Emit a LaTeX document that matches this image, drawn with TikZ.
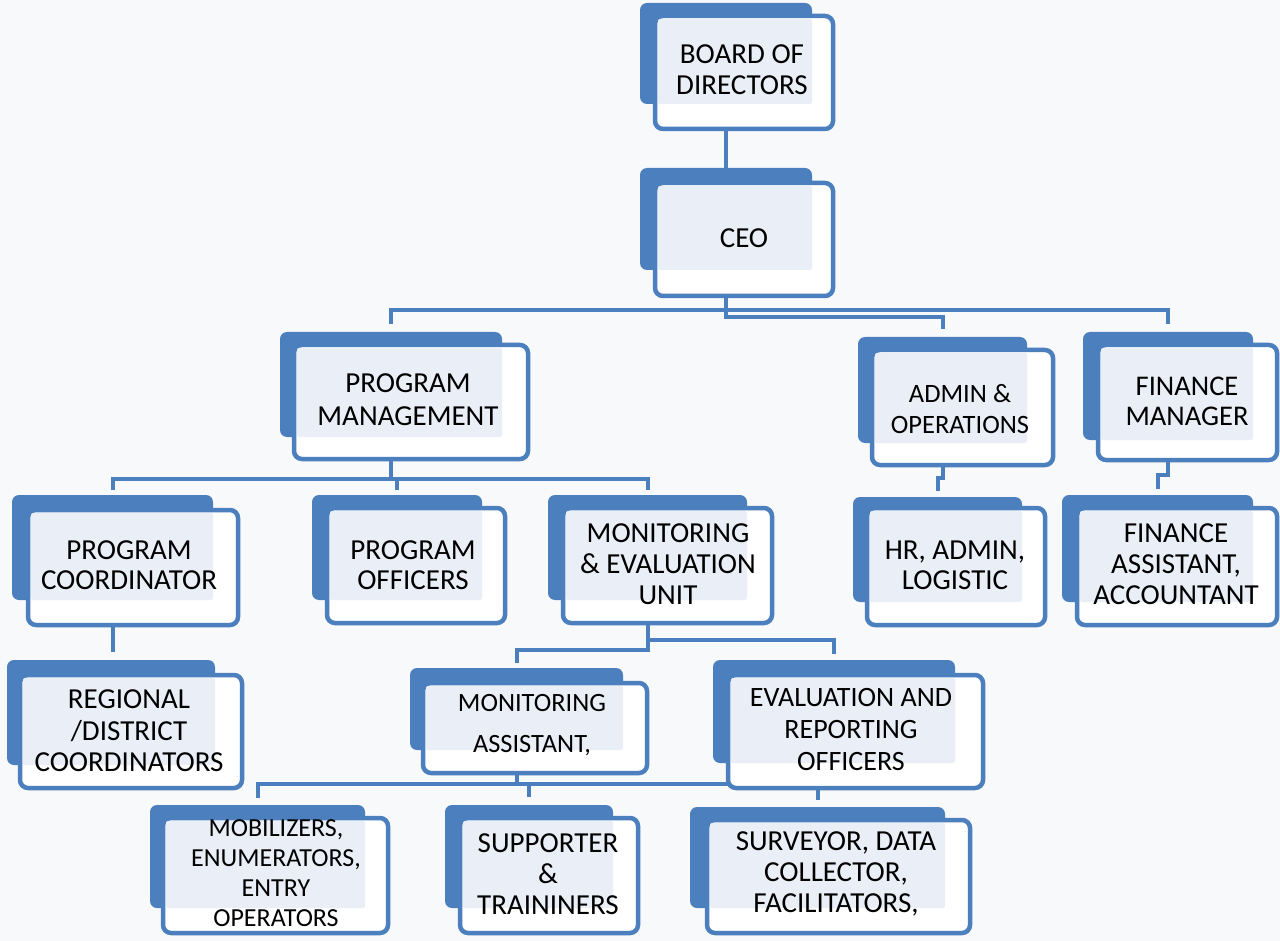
\documentclass[tikz,border=0pt]{standalone}
\usepackage{fontspec}
\setmainfont{Carlito}
\usetikzlibrary{fit,calc}
\pgfdeclarelayer{bg}
\pgfdeclarelayer{conn}
\pgfsetlayers{bg,conn,main}
\definecolor{boxblue}{RGB}{76,127,190}
\definecolor{innerfill}{RGB}{234,239,247}
\definecolor{pagebg}{RGB}{248,249,250}
\newcommand\fs[2]{\fontsize{#1}{#2}\selectfont}
% #1 name, #2 back top-left, #3 back bottom-right, #4 front top-left, #5 front bottom-right
\newcommand\obox[5]{%
  \fill[boxblue, rounded corners=7pt] #2 rectangle #3;
  \draw[boxblue, line width=4.5pt, fill=white, rounded corners=8pt] #4 rectangle #5;
  \fill[innerfill, rounded corners=2pt] ($#4+(3,3)$) rectangle #3;
  \node[fit={#2 #3}, inner sep=0pt, name=#1b] {};
  \node[fit={#4 #5}, inner sep=0pt, name=#1] {};
}
\begin{document}
\begin{tikzpicture}[x=1pt,y=-1pt,
  conn/.style={draw=boxblue, line width=4pt},
  lbl/.style={align=center, inner sep=0pt, text=black}]
\begin{pgfonlayer}{bg}
\fill[pagebg] (0,0) rectangle (1280,941);
\end{pgfonlayer}
\useasboundingbox (0,0) rectangle (1280,941);

% boxes
\obox{board}{(640,3)}{(812,104)}{(655,16)}{(833,129)}
\obox{ceo}{(640,168)}{(812,270)}{(655,183)}{(833,296)}
\obox{pm}{(280,332)}{(502,437)}{(294,345)}{(528,459)}
\obox{admin}{(858,337)}{(1027,443)}{(872,350)}{(1053,465)}
\obox{fin}{(1083,332)}{(1253,440)}{(1098,345)}{(1277,460)}
\obox{pc}{(12,495)}{(213,600)}{(28,510)}{(238,625)}
\obox{po}{(312,495)}{(482,600)}{(327,508)}{(505,623)}
\obox{me}{(548,495)}{(747,600)}{(563,508)}{(772,623)}
\obox{hr}{(853,497)}{(1022,602)}{(867,508)}{(1045,625)}
\obox{fa}{(1062,495)}{(1253,602)}{(1077,508)}{(1277,625)}
\obox{reg}{(7,660)}{(215,765)}{(20,675)}{(242,788)}
\obox{ma}{(410,668)}{(623,750)}{(423,683)}{(647,773)}
\obox{eval}{(713,660)}{(955,763)}{(728,675)}{(983,788)}
\obox{mob}{(150,805)}{(365,908)}{(163,818)}{(388,933)}
\obox{sup}{(445,805)}{(613,908)}{(460,818)}{(638,933)}
\obox{sur}{(690,807)}{(945,908)}{(707,820)}{(970,933)}

% labels
\node[lbl, font=\fs{29}{31}] (boardt) at (742,70) {BOARD OF\\DIRECTORS};
\node[lbl, font=\fs{29}{31}] (ceot) at (744,238) {CEO};
\node[lbl, font=\fs{29}{33}] (pmt) at (408,400) {PROGRAM\\MANAGEMENT};
\node[lbl, font=\fs{26.5}{31}] (admint) at (960,409) {ADMIN \&\\OPERATIONS};
\node[lbl, font=\fs{28.5}{30}] (fint) at (1187,401) {FINANCE\\MANAGER};
\node[lbl, font=\fs{29}{30}] (pct) at (129,565) {PROGRAM\\COORDINATOR};
\node[lbl, font=\fs{29}{30}] (pot) at (413,565) {PROGRAM\\OFFICERS};
\node[lbl, font=\fs{29}{31}] (met) at (668,564) {MONITORING\\\& EVALUATION\\UNIT};
\node[lbl, font=\fs{29}{30}] (hrt) at (955,565) {HR, ADMIN,\\LOGISTIC};
\node[lbl, font=\fs{29}{31}] (fat) at (1176,564) {FINANCE\\ASSISTANT,\\ACCOUNTANT};
\node[lbl, font=\fs{29}{31.5}] (regt) at (129,731) {REGIONAL\\/DISTRICT\\COORDINATORS};
\node[lbl, font=\fs{26.4}{41}] (mat) at (532,725) {MONITORING\\ASSISTANT,};
\node[lbl, font=\fs{28}{32}] (evalt) at (851,730) {EVALUATION AND\\REPORTING\\OFFICERS};
\node[lbl, font=\fs{26}{30}] (mobt) at (276,873) {MOBILIZERS,\\ENUMERATORS,\\ENTRY\\OPERATORS};
\node[lbl, font=\fs{29}{31}] (supt) at (548,874) {SUPPORTER\\\&\\TRAININERS};
\node[lbl, font=\fs{29}{31}] (surt) at (836,874) {SURVEYOR, DATA\\COLLECTOR,\\FACILITATORS,};

% connectors
\coordinate (yA) at (0,310);
\coordinate (yB) at (0,317);
\coordinate (yC) at (0,479);
\coordinate (yD) at (0,640);
\coordinate (yE) at (0,650);
\coordinate (yF) at (0,784);
\begin{pgfonlayer}{conn}
\draw[conn] (boardb.center |- board.south) -- (ceob.center |- ceob.north);
\draw[conn] (ceob.center |- ceo.south) -- (ceob.center |- yA) -| ($(pmb.north)+(0,-8)$);
\draw[conn] (ceob.center |- yA) -| ($(finb.north)+(0,-8)$);
\draw[conn] (ceob.center |- yA) -- (ceob.center |- yB) -| ($(adminb.north)+(0,-8)$);
\draw[conn] (pmb.center |- pm.south) -- (pmb.center |- yC);
\draw[conn] ($(pcb.north)+(0,-5)$) |- (meb.center |- yC) -- ($(meb.north)+(0,-5)$);
\draw[conn] (pob.center |- yC) -- ($(pob.north)+(0,-5)$);
\draw[conn] (pcb.center |- pc.south) -- ($(pcb.center |- regb.north)+(0,-8)$);
\draw[conn] (adminb.center |- admin.south) -- ++(0,13) -| ($(hrb.north)+(0,-6)$);
\draw[conn] (finb.center |- fin.south) -- ++(0,15) -| ($(fab.north)+(0,-6)$);
\draw[conn] (meb.center |- me.south) -- (meb.center |- yE) -| ($(mab.north)+(0,-5)$);
\draw[conn] (meb.center |- yD) -| ($(evalb.north)+(0,-6)$);
\draw[conn] (mab.center |- ma.south) -- (mab.center |- yF);
\draw[conn] ($(mobb.north)+(0,-7)$) |- ($(eval.south west |- yF)+(10,0)$);
\draw[conn] (supb.center |- yF) -- ($(supb.north)+(0,-8)$);
\draw[conn] (surb.center |- eval.south) -- ($(surb.north)+(0,-7)$);
\end{pgfonlayer}
\end{tikzpicture}
\end{document}
